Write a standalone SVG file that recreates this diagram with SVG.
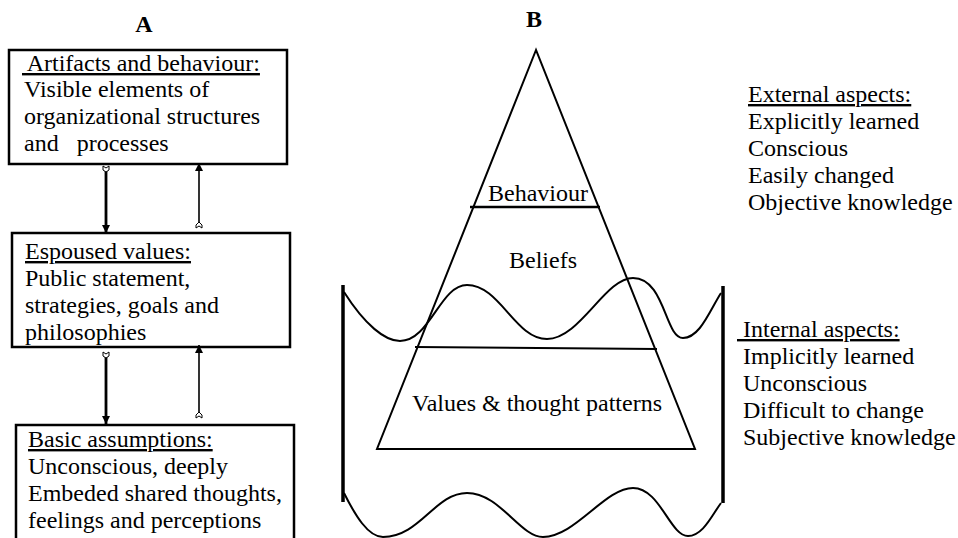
<svg xmlns="http://www.w3.org/2000/svg" width="958" height="538" viewBox="0 0 958 538">
<style>
text{font-family:"Liberation Serif","Times New Roman",serif;font-size:24px;fill:#000;white-space:pre}
.t{font-weight:bold}
.u{text-decoration:underline}
.box{fill:#fff;stroke:#000;stroke-width:2.5}
.ln{fill:none;stroke:#000;stroke-width:2}
.bar{fill:none;stroke:#000;stroke-width:3.5}
.tail{fill:#fff;stroke:#000;stroke-width:1}
</style>
<defs>
<marker id="head" viewBox="0 0 10 10" refX="10" refY="5" markerWidth="8" markerHeight="8" markerUnits="userSpaceOnUse" orient="auto"><path d="M0,0 L10,5 L0,10 z" fill="#000"/></marker>
</defs>
<rect width="958" height="538" fill="#fff"/>
<text class="t" x="144" y="32" text-anchor="middle">A</text>
<text class="t" x="534" y="27" text-anchor="middle">B</text>

<g id="artifacts">
<rect class="box" x="9" y="50" width="278" height="114"/>
<text class="u" x="22" y="71" xml:space="preserve"> Artifacts and behaviour:</text>
<text x="24" y="97">Visible elements of</text>
<text x="24" y="124">organizational structures</text>
<text x="24" y="151" xml:space="preserve">and   processes</text>
</g>

<g id="espoused">
<rect class="box" x="12" y="233" width="278" height="114"/>
<text class="u" x="25" y="259">Espoused values:</text>
<text x="25" y="286">Public statement,</text>
<text x="25" y="313">strategies, goals and</text>
<text x="25" y="340">philosophies</text>
</g>

<g id="assumptions">
<rect class="box" x="16" y="425" width="278" height="118"/>
<text class="u" x="28" y="447">Basic assumptions:</text>
<text x="28" y="474">Unconscious, deeply</text>
<text x="28" y="501">Embeded shared thoughts,</text>
<text x="28" y="528">feelings and perceptions</text>
</g>

<g id="connectors">
<line x1="106" y1="171" x2="106" y2="233" stroke="#000" stroke-width="2.8" marker-end="url(#head)"/>
<path class="tail" d="M103,166 L106,168 L109,166 L109,170 L106,172 L103,170 z"/>
<line x1="199" y1="223" x2="199" y2="163" stroke="#000" stroke-width="1.6" marker-end="url(#head)"/>
<path class="tail" d="M196,228 L199,226 L202,228 L202,225 L199,222 L196,225 z"/>
<line x1="106" y1="357" x2="106" y2="424" stroke="#000" stroke-width="2.8" marker-end="url(#head)"/>
<path class="tail" d="M103,352 L106,354 L109,352 L109,356 L106,358 L103,356 z"/>
<line x1="199" y1="413" x2="199" y2="345" stroke="#000" stroke-width="1.6" marker-end="url(#head)"/>
<path class="tail" d="M196,418 L199,416 L202,418 L202,415 L199,412 L196,415 z"/>
</g>

<g id="iceberg">
<line class="bar" x1="343" y1="285" x2="343" y2="502"/>
<line class="bar" x1="723" y1="286" x2="723" y2="503"/>
<path class="ln" d="M344,292 C365,325 385,341 400,341 C430,341 440,285 467,285 C500,285 515,339 547,339 C580,339 605,278 633,278 C665,278 665,338 683,338 C700,338 710,310 721,293"/>
<path class="ln" d="M344,493 C355,515 368,537 383,537 C420,537 435,493 467,493 C500,493 520,537 543,537 C575,537 605,488 633,488 C660,488 670,536 688,536 C703,536 712,515 721,503"/>
</g>

<g id="pyramid">
<path class="ln" d="M536,50 L377,449 L695,449 Z" stroke-linejoin="miter"/>
<line x1="470" y1="207" x2="600" y2="207" stroke="#000" stroke-width="2.5"/>
<line x1="415" y1="347" x2="657" y2="349" stroke="#000" stroke-width="2"/>
<text x="538" y="201" text-anchor="middle">Behaviour</text>
<text x="543" y="268" text-anchor="middle">Beliefs</text>
<text x="537" y="411" text-anchor="middle">Values &amp; thought patterns</text>
</g>

<g id="external">
<text class="u" x="748" y="102">External aspects:</text>
<text x="748" y="129">Explicitly learned</text>
<text x="748" y="156">Conscious</text>
<text x="748" y="183">Easily changed</text>
<text x="748" y="210">Objective knowledge</text>
</g>

<g id="internal">
<text class="u" x="737" y="337" xml:space="preserve"> Internal aspects:</text>
<text x="743" y="364">Implicitly learned</text>
<text x="743" y="391">Unconscious</text>
<text x="743" y="418">Difficult to change</text>
<text x="743" y="445">Subjective knowledge</text>
</g>
</svg>
